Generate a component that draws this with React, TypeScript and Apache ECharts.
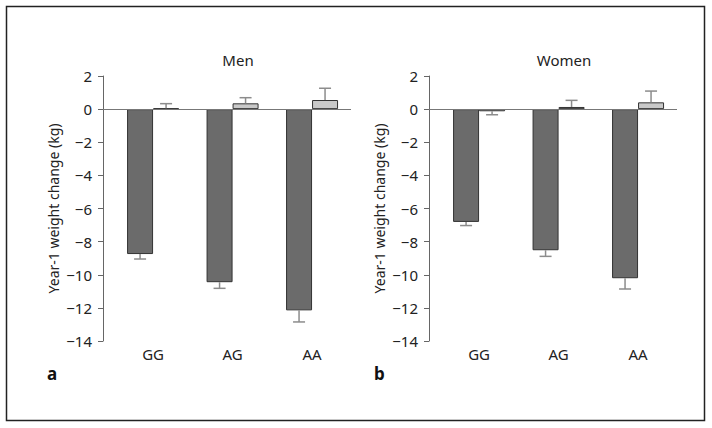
import React, { useEffect, useRef } from "react";
import * as echarts from "echarts";

const categories = ["GG", "AG", "AA"];
const panelTitles = ["Men", "Women"];
const panelLetters = ["a", "b"];
const yTicks = { min: -14, max: 2, interval: 2 };

const menDark = [-8.75, -10.45, -12.15];
const menDarkErr = [0.3, 0.37, 0.7];
const menLight = [0.05, 0.35, 0.55];
const menLightErr = [0.28, 0.34, 0.71];

const womenDark = [-6.81, -8.52, -10.21];
const womenDarkErr = [0.22, 0.37, 0.65];
const womenLight = [-0.13, 0.13, 0.41];
const womenLightErr = [0.21, 0.4, 0.68];

const DARK = "#6b6b6b";
const LIGHT = "#c9c9c9";
const BORDER = "#333333";
const AXIS = "#666666";
const ERR = "#8c8c8c";
const FONT = "Noto Sans";
const BAR_W = 26;

export default function App() {
  const ref = useRef<HTMLDivElement>(null);
  useEffect(() => {
    if (!ref.current) return;
    const chart = echarts.init(ref.current, null, { renderer: "svg" });
    const grids = [
      { left: 103, top: 76, width: 248, height: 265 },
      { left: 429, top: 76, width: 248, height: 265 },
    ];
    const panels = [
      { dark: menDark, darkErr: menDarkErr, light: menLight, lightErr: menLightErr },
      { dark: womenDark, darkErr: womenDarkErr, light: womenLight, lightErr: womenLightErr },
    ];
    const xAxes = grids.map((_, i) => ({
      type: "value",
      gridIndex: i,
      min: -0.63,
      max: 2.49,
      position: "bottom",
      axisLine: { show: false, onZero: false },
      axisTick: { show: false },
      splitLine: { show: false },
      axisLabel: {
        customValues: [0, 1, 2],
        formatter: (v: number) => categories[Math.round(v)] ?? "",
        color: "#222",
        fontFamily: FONT,
        fontSize: 15,
        margin: 5,
      },
    }));
    const yAxes = grids.map((_, i) => ({
      type: "value",
      gridIndex: i,
      min: yTicks.min,
      max: yTicks.max,
      interval: yTicks.interval,
      name: "Year-1 weight change (kg)",
      nameLocation: "middle",
      nameGap: 43,
      nameTextStyle: { color: "#222", fontFamily: FONT, fontSize: 14 },
      axisLine: { show: true, onZero: false, lineStyle: { color: AXIS, width: 1 } },
      axisTick: { show: true, length: 5, lineStyle: { color: AXIS } },
      splitLine: { show: false },
      axisLabel: {
        color: "#222",
        fontFamily: FONT,
        fontSize: 15,
        margin: 11,
        formatter: (v: number) => String(v).replace("-", "\u2212"),
      },
    }));
    const series: any[] = [];
    panels.forEach((p, i) => {
      series.push({
        type: "bar",
        xAxisIndex: i,
        yAxisIndex: i,
        barWidth: BAR_W,
        barGap: "0%",
        data: p.dark.map((v, k) => [k, v]),
        itemStyle: { color: DARK, borderColor: BORDER, borderWidth: 1 },
        markLine: {
          silent: true,
          symbol: "none",
          label: { show: false },
          lineStyle: { color: "#777", width: 1, type: "solid" },
          data: [{ yAxis: 0 }],
        },
      });
      series.push({
        type: "bar",
        xAxisIndex: i,
        yAxisIndex: i,
        barWidth: BAR_W,
        barGap: "0%",
        data: p.light.map((v, k) => [k, v]),
        itemStyle: { color: LIGHT, borderColor: BORDER, borderWidth: 1 },
      });
      const errData: number[][] = [];
      p.dark.forEach((v, k) => {
        errData.push([k, v, v + Math.sign(v) * p.darkErr[k], -1]);
      });
      p.light.forEach((v, k) => {
        errData.push([k, v, v + Math.sign(v) * p.lightErr[k], 1]);
      });
      series.push({
        type: "custom",
        xAxisIndex: i,
        yAxisIndex: i,
        z: 3,
        data: errData,
        renderItem: (params: any, api: any) => {
          const x = api.value(0);
          const a = api.coord([x, api.value(1)]);
          const b = api.coord([x, api.value(2)]);
          const cx = a[0] + api.value(3) * (BAR_W / 2);
          const style = { stroke: ERR, lineWidth: 1.5 };
          return {
            type: "group",
            children: [
              { type: "line", shape: { x1: cx, y1: a[1], x2: cx, y2: b[1] }, style },
              { type: "line", shape: { x1: cx - 6, y1: b[1], x2: cx + 6, y2: b[1] }, style },
            ],
          };
        },
      });
    });
    const titleStyle = { fontFamily: FONT, fontSize: 15, fontWeight: "normal", color: "#222" };
    const letterStyle = { fontFamily: FONT, fontSize: 17, fontWeight: "bold", color: "#111" };
    chart.setOption({
      animation: false,
      backgroundColor: "#ffffff",
      title: [
        { text: panelTitles[0], left: 233, top: 47, textAlign: "center", textStyle: titleStyle },
        { text: panelTitles[1], left: 559, top: 47, textAlign: "center", textStyle: titleStyle },
        { text: panelLetters[0], left: 42, top: 360, textStyle: letterStyle },
        { text: panelLetters[1], left: 369, top: 360, textStyle: letterStyle },
      ],
      grid: grids,
      xAxis: xAxes,
      yAxis: yAxes,
      series,
      graphic: [
        {
          type: "rect",
          shape: { x: 6.5, y: 6.5, width: 698, height: 414 },
          style: { fill: "none", stroke: "#222", lineWidth: 1.5 },
          silent: true,
        },
      ],
    });
    return () => chart.dispose();
  }, []);
  return (
    <div
      ref={ref}
      style={{ position: "absolute", left: 0, top: 0, width: 712, height: 428, background: "#fff" }}
    />
  );
}
